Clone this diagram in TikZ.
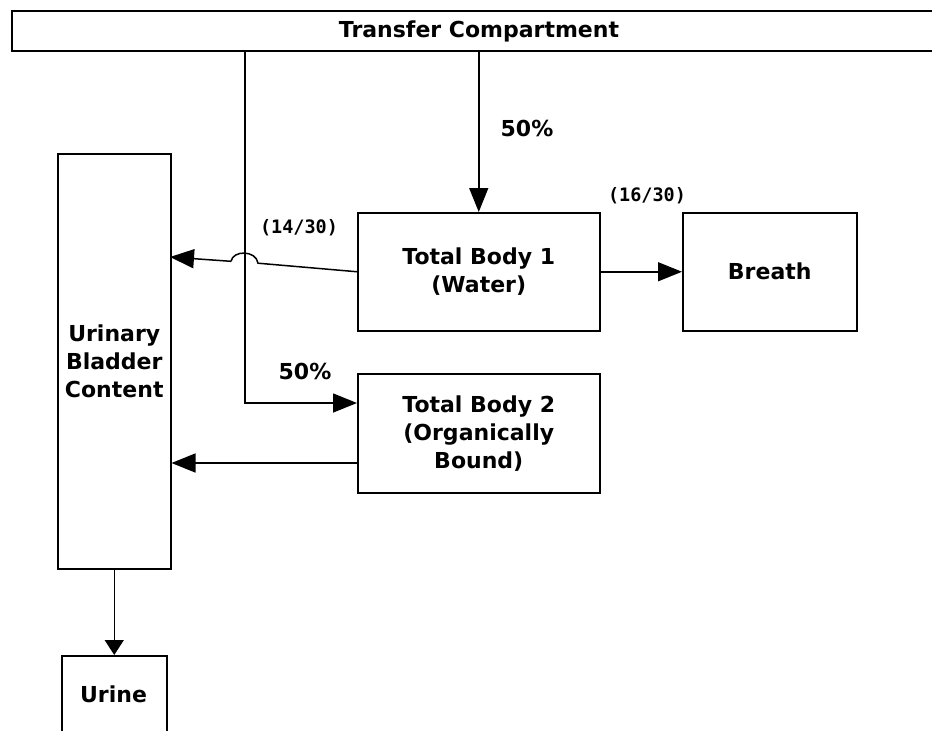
\documentclass[tikz,border=0pt]{standalone}
\usepackage{fontspec}
\setmainfont{DejaVu Sans}
\newfontfamily\monofnt{DejaVu Sans Mono}
\usetikzlibrary{arrows.meta,calc}
\begin{document}
\begin{tikzpicture}[x=1pt,y=-1pt,
  box/.style={draw,line width=1.5pt,anchor=north west,inner sep=0pt,align=center,
    font=\fontsize{22}{28}\selectfont\bfseries},
  conn/.style={line width=1.5pt},
  arr/.style={conn,-{Triangle[length=24pt,width=19pt]}},
  sarr/.style={conn,-{Triangle[length=15pt,width=19pt]}},
  lbl/.style={font=\fontsize{22}{26}\selectfont\bfseries},
  mlbl/.style={font=\fontsize{18.5}{20}\selectfont\monofnt\bfseries}]
\useasboundingbox (0,0) rectangle (932,731);
\node[box,minimum width=960pt,minimum height=40pt] (tc) at (11,10) {};
\node[lbl] (tctext) at (479,31) {Transfer Compartment};
\node[box,minimum width=113pt,minimum height=415pt] (ub) at (57,153) {Urinary\\Bladder\\Content};
\node[box,minimum width=242pt,minimum height=118pt] (tb1) at (357,212) {Total Body 1\\(Water)};
\node[box,minimum width=174pt,minimum height=118pt] (br) at (682,212) {Breath};
\node[box,minimum width=242pt,minimum height=119pt] (tb2) at (357,373) {Total Body 2\\(Organically\\Bound)};
\node[box,minimum width=105pt,minimum height=110pt] (ur) at (61,655) {};
\node[lbl] (urtext) at (113.5,694) {Urine};
% connectors
\coordinate (tcA) at (tc.south -| tb1.north);
\draw[arr] (tcA) -- (tb1.north);
\coordinate (tcB) at (245,50);
\coordinate (tcBc) at (245,403);
\draw[arr] (tcB) -- (tcBc) -- (tcBc -| tb2.west);
\coordinate (ubA) at (170,257);
\coordinate (j1) at (258,263.2);
\coordinate (j2) at (231,261.3);
\draw[conn] (tb1.west) -- (j1) .. controls (256,250) and (233,250) .. (j2);
\draw[arr] (j2) -- (ubA);
\draw[arr] (tb1.east) -- (br.west);
\coordinate (tb2o) at (357,463);
\draw[arr] (tb2o) -- (tb2o -| ub.east);
\draw[sarr] (ub.south) -- (ur.north);
% labels
\node[lbl] (l50a) at (527,128) {50\%};
\node[lbl] (l50b) at (305,371) {50\%};
\node[mlbl] (l14) at (299,228) {(14/30)};
\node[mlbl] (l16) at (647,196) {(16/30)};
\end{tikzpicture}
\end{document}
